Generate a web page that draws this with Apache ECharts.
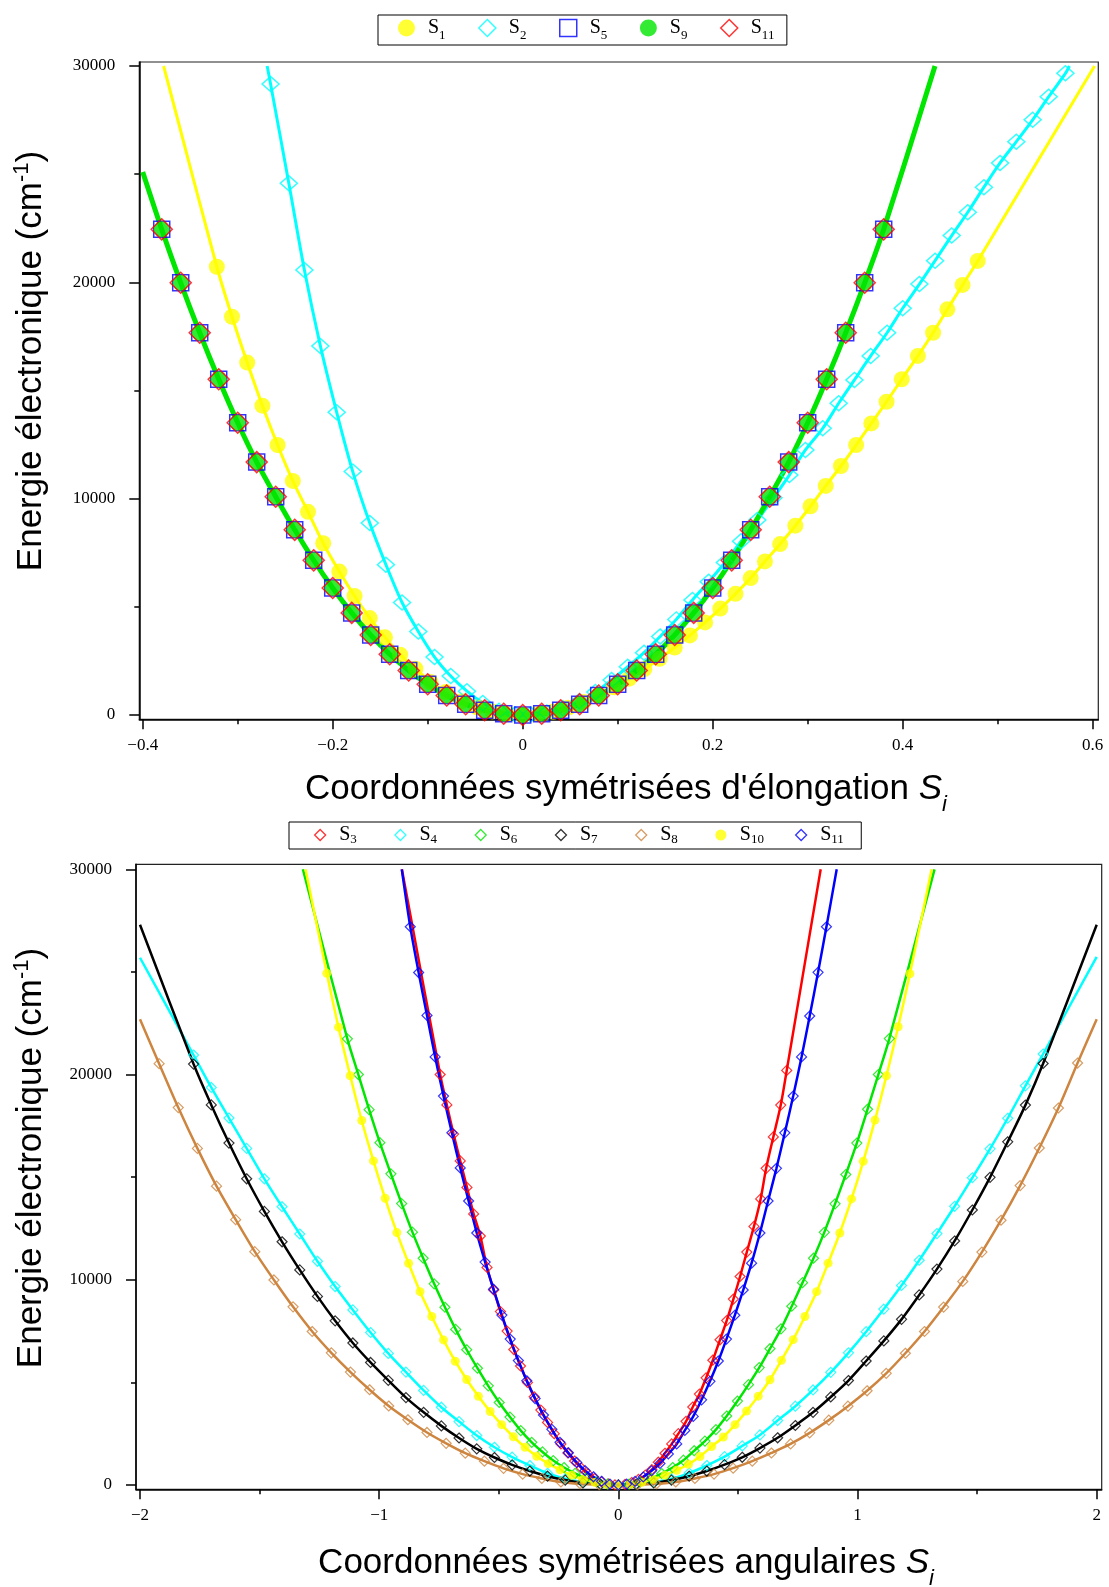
<!DOCTYPE html>
<html><head><meta charset="utf-8">
<script src="https://cdn.jsdelivr.net/npm/echarts@6/dist/echarts.min.js"></script>
<style>html,body{margin:0;padding:0;background:#fff}#c{width:1109px;height:1587px}</style>
</head><body><div id="c"></div>
<script>
// ---------- TOP CHART: stretching coordinates ----------
const topXMajor = [-0.4, -0.2, 0, 0.2, 0.4, 0.6];
const topXMinor = [-0.3, -0.1, 0.1, 0.3, 0.5];
const topYMajor = [0, 10000, 20000, 30000];
const topYMinor = [5000, 15000, 25000];

const s1X = [-0.322,-0.306,-0.290,-0.274,-0.258,-0.242,-0.226,-0.210,-0.193,-0.177,-0.161,-0.145,-0.129,-0.113,-0.097,-0.081,-0.064,-0.048,-0.032,-0.016,0,0.016,0.032,0.048,0.064,0.080,0.096,0.112,0.128,0.144,0.160,0.176,0.192,0.208,0.224,0.240,0.255,0.271,0.287,0.303,0.319,0.335,0.351,0.367,0.383,0.399,0.416,0.432,0.447,0.463,0.479];
const s1E = [20720,18410,16290,14300,12480,10820,9390,7940,6630,5500,4480,3590,2790,2140,1530,1060,640,350,160,40,0,40,150,340,600,920,1280,1680,2120,2600,3120,3680,4280,4920,5600,6330,7100,7900,8750,9650,10590,11510,12480,13480,14480,15520,16600,17670,18750,19880,20990];
const s1LineEnds = [[-0.378, 30000], [0.602, 30000]];

const s2X = [-0.2654,-0.2462,-0.2298,-0.2130,-0.1958,-0.1789,-0.1610,-0.1440,-0.1270,-0.1099,-0.0928,-0.0758,-0.0587,-0.0420,-0.0250,-0.0080,0.0084,0.0254,0.0424,0.0595,0.0765,0.0936,0.1106,0.1277,0.1447,0.1617,0.1787,0.1958,0.2128,0.2299,0.2470,0.2640,0.2807,0.2976,0.3158,0.3326,0.3492,0.3663,0.3836,0.4000,0.4176,0.4341,0.4516,0.4685,0.4855,0.5025,0.5196,0.5368,0.5537,0.5713];
const s2E = [29170,24580,20570,17060,13990,11250,8870,6950,5200,3860,2680,1800,1100,560,200,30,20,120,310,640,1060,1620,2230,2880,3630,4420,5320,6160,7050,8030,9010,10040,11090,12250,13250,14410,15490,16600,17670,18800,19920,21000,22160,23240,24400,25520,26500,27510,28580,29660];
const s2LineEnds = [[-0.269, 30000], [0.5755, 30000]];

const elongX = [-0.38,-0.36,-0.34,-0.32,-0.30,-0.28,-0.26,-0.24,-0.22,-0.20,-0.18,-0.16,-0.14,-0.12,-0.10,-0.08,-0.06,-0.04,-0.02,0,0.02,0.04,0.06,0.08,0.10,0.12,0.14,0.16,0.18,0.20,0.22,0.24,0.26,0.28,0.30,0.32,0.34,0.36,0.38];
const s5E  = [22450,19980,17670,15520,13510,11690,10090,8560,7150,5870,4720,3700,2810,2060,1420,900,500,220,55,0,55,220,500,900,1420,2060,2810,3700,4720,5870,7150,8560,10090,11690,13510,15520,17670,19980,22450];
const s9E  = [22450,19980,17670,15520,13510,11690,10090,8560,7150,5870,4720,3700,2810,2060,1420,900,500,220,55,0,55,220,500,900,1420,2060,2810,3700,4720,5870,7150,8560,10090,11690,13510,15520,17670,19980,22450];
const s11E = [22450,19980,17670,15520,13510,11690,10090,8560,7150,5870,4720,3700,2810,2060,1420,900,500,220,55,0,55,220,500,900,1420,2060,2810,3700,4720,5870,7150,8560,10090,11690,13510,15520,17670,19980,22450];
const s9LineEnds = [[-0.4, 25100], [0.434, 30000]];

// ---------- BOTTOM CHART: angular coordinates ----------
const botXMajor = [-2, -1, 0, 1, 2];
const botXMinor = [-1.5, -0.5, 0.5, 1.5];
const botYMajor = [0, 10000, 20000, 30000];
const botYMinor = [5000, 15000, 25000];

const a3X = [-0.745,-0.717,-0.689,-0.661,-0.633,-0.605,-0.577,-0.549,-0.521,-0.493,-0.465,-0.437,-0.409,-0.380,-0.352,-0.324,-0.296,-0.268,-0.240,-0.211,-0.183,-0.155,-0.127,-0.099,-0.070,-0.042,-0.014,0.028,0.056,0.084,0.113,0.140,0.167,0.195,0.223,0.251,0.283,0.311,0.339,0.367,0.395,0.425,0.453,0.481,0.509,0.537,0.567,0.595,0.618,0.648,0.679,0.704];
const a3E = [20000,18520,17100,15790,14500,13210,12130,10600,9500,8450,7500,6600,5800,5000,4300,3650,3050,2500,2000,1560,1170,830,540,310,150,50,5,30,120,270,480,750,1110,1545,2003,2500,3100,3800,4430,5220,6080,7075,8010,9060,10160,11350,12600,13940,15430,16960,18510,20200];
const a3LineEnds = [[-0.905, 30000], [0.846, 30000]];

const a47X = [-1.776,-1.702,-1.628,-1.554,-1.480,-1.406,-1.332,-1.258,-1.184,-1.110,-1.036,-0.962,-0.888,-0.814,-0.740,-0.666,-0.592,-0.518,-0.444,-0.370,-0.296,-0.222,-0.148,-0.074,0,0.074,0.148,0.222,0.296,0.370,0.444,0.518,0.592,0.666,0.740,0.814,0.888,0.962,1.036,1.110,1.184,1.258,1.332,1.406,1.480,1.554,1.628,1.702,1.776];
const a4E = [20950,19370,17880,16400,14920,13560,12230,10900,9670,8530,7430,6410,5500,4610,3790,3090,2410,1840,1360,950,570,300,130,35,0,35,130,300,580,950,1380,1905,2440,3140,3840,4630,5490,6440,7470,8570,9720,10950,12250,13580,14970,16380,17870,19450,21000];
const a4LineEnds = [[-2, 25690], [2, 25730]];
const a7E = [20510,18520,16660,14920,13330,11850,10480,9190,8000,6920,5970,5100,4260,3540,2880,2290,1760,1340,980,680,430,240,100,25,0,25,100,240,430,680,990,1350,1800,2300,2900,3540,4290,5090,6040,7020,8070,9260,10520,11890,13400,14990,16720,18510,20540];
const a7LineEnds = [[-2, 27300], [2, 27300]];

const a6X = [-1.133,-1.087,-1.042,-0.997,-0.951,-0.906,-0.861,-0.816,-0.770,-0.725,-0.680,-0.634,-0.589,-0.544,-0.498,-0.453,-0.408,-0.362,-0.317,-0.272,-0.227,-0.181,-0.136,-0.091,-0.045,0,0.045,0.091,0.136,0.181,0.227,0.272,0.317,0.362,0.408,0.453,0.498,0.544,0.589,0.634,0.680,0.725,0.770,0.816,0.861,0.906,0.951,0.997,1.042,1.087,1.133];
const a6E = [21740,20000,18290,16680,15160,13710,12320,11050,9800,8660,7580,6590,5690,4830,4020,3310,2650,2080,1610,1190,850,565,330,150,40,0,40,145,320,560,850,1210,1670,2140,2700,3360,4090,4890,5720,6640,7610,8710,9860,11050,12310,13700,15130,16660,18310,20000,21750];
const a6LineEnds = [[-1.319, 30000], [1.322, 30000]];

const a8X = [-1.92,-1.84,-1.76,-1.68,-1.60,-1.52,-1.44,-1.36,-1.28,-1.20,-1.12,-1.04,-0.96,-0.88,-0.80,-0.72,-0.64,-0.56,-0.48,-0.40,-0.32,-0.24,-0.16,-0.08,0,0.08,0.16,0.24,0.32,0.40,0.48,0.56,0.64,0.72,0.80,0.88,0.96,1.04,1.12,1.20,1.28,1.36,1.44,1.52,1.60,1.68,1.76,1.84,1.92];
const a8E = [20530,18390,16400,14560,12930,11370,9990,8680,7480,6440,5500,4640,3850,3180,2560,2030,1550,1160,810,530,320,150,60,15,0,15,60,150,320,530,820,1160,1560,2000,2540,3160,3840,4590,5440,6420,7480,8670,9920,11350,12900,14590,16420,18370,20560];
const a8LineEnds = [[-2, 22690], [2, 22690]];

const a10X = [-1.219,-1.170,-1.121,-1.073,-1.024,-0.975,-0.926,-0.877,-0.829,-0.780,-0.731,-0.682,-0.634,-0.585,-0.536,-0.488,-0.439,-0.390,-0.341,-0.293,-0.244,-0.195,-0.146,-0.098,-0.049,0,0.049,0.098,0.146,0.195,0.244,0.293,0.341,0.390,0.439,0.488,0.536,0.585,0.634,0.682,0.731,0.780,0.829,0.877,0.926,0.975,1.024,1.073,1.121,1.170,1.219];
const a10E = [24930,22310,19940,17760,15790,13970,12300,10800,9420,8210,7070,6030,5140,4320,3580,2940,2350,1840,1400,1040,740,470,280,125,30,0,30,125,280,470,720,1010,1390,1870,2340,2940,3600,4330,5130,6080,7080,8210,9420,10810,12280,13940,15770,17780,19940,22330,24910];
const a10LineEnds = [[-1.308, 30000], [1.31, 30000]];

const a11X = [-0.870,-0.835,-0.800,-0.766,-0.731,-0.696,-0.661,-0.626,-0.592,-0.557,-0.522,-0.487,-0.452,-0.418,-0.383,-0.348,-0.313,-0.278,-0.244,-0.209,-0.174,-0.139,-0.104,-0.070,-0.035,0,0.035,0.070,0.104,0.139,0.174,0.209,0.244,0.278,0.313,0.348,0.383,0.418,0.452,0.487,0.522,0.557,0.592,0.626,0.661,0.696,0.731,0.766,0.800,0.835,0.870];
const a11E = [27200,24970,22880,20860,18950,17160,15450,13840,12280,10860,9540,8280,7110,6060,5080,4210,3410,2710,2080,1570,1100,700,400,180,45,0,45,175,390,690,1050,1510,2000,2660,3340,4150,5050,6040,7110,8270,9500,10810,12280,13840,15430,17160,18950,20860,22850,24980,27200];
const a11LineEnds = [[-0.9055, 30000], [0.913, 30000]];

// ---------- helpers ----------
const pts = (xs, es) => xs.map((x, i) => [x, es[i]]);
const withEnds = (xs, es, ends) => [ends[0], ...pts(xs, es), ends[1]];
const SERIF = 'Liberation Serif', SANS = 'Liberation Sans';
const fmt = v => String(v).replace('-', '\u2212');
const C = {yellow:'#ffff00', cyan:'#00ffff', blue:'#0000ff', green:'#00e600', red:'#ff0000', black:'#000000', brown:'#cd853f'};
const NOFILL = 'rgba(0,0,0,0)';

function lineS(name, xi, yi, data, color, width) {
  return {name, type:'line', xAxisIndex:xi, yAxisIndex:yi, data, showSymbol:false, symbol:'none',
    smooth:0.3, lineStyle:{color, width}, itemStyle:{color}, silent:true, z:2};
}
function scatS(name, xi, yi, data, symbol, size, fill, stroke, bw) {
  return {name, type:'scatter', xAxisIndex:xi, yAxisIndex:yi, data, symbol, symbolSize:size,
    itemStyle:{color:fill, borderColor:stroke, borderWidth:bw}, silent:true, z:3};
}
function xAx(grid, min, max, major, minor) {
  const lab = {fontFamily:SERIF, fontSize:17, color:'#000'};
  return [
    {gridIndex:grid, type:'value', min, max, position:'bottom',
      axisLine:{show:true, onZero:false, lineStyle:{color:'#000', width:1.5}},
      axisTick:{show:true, length:10, customValues:major, lineStyle:{color:'#000', width:1.5}},
      axisLabel:{show:true, customValues:major, formatter:fmt, margin:18, ...lab},
      splitLine:{show:false}},
    {gridIndex:grid, type:'value', min, max, position:'bottom',
      axisLine:{show:false, onZero:false},
      axisTick:{show:true, length:5, customValues:minor, lineStyle:{color:'#000', width:1.5}},
      axisLabel:{show:false}, splitLine:{show:false}}
  ];
}
function yAx(grid, min, max, major, minor) {
  const lab = {fontFamily:SERIF, fontSize:17, color:'#000'};
  return [
    {gridIndex:grid, type:'value', min, max, position:'left',
      axisLine:{show:true, onZero:false, lineStyle:{color:'#000', width:1.5}},
      axisTick:{show:true, length:10, customValues:major, lineStyle:{color:'#000', width:1.5}},
      axisLabel:{show:true, customValues:major, formatter:v => String(v), margin:24, ...lab},
      splitLine:{show:false}},
    {gridIndex:grid, type:'value', min, max, position:'left',
      axisLine:{show:false, onZero:false},
      axisTick:{show:true, length:5, customValues:minor, lineStyle:{color:'#000', width:1.5}},
      axisLabel:{show:false}, splitLine:{show:false}}
  ];
}
const legendFmt = n => '{s|S}{b|' + n.replace(/\D/g, '') + '}';
const legendText = (lh, padL) => ({rich:{
  s:{fontFamily:SERIF, fontSize:20, lineHeight:lh, color:'#000', padding:[0,0,0,padL]},
  b:{fontFamily:SERIF, fontSize:13, lineHeight:13, verticalAlign:'bottom', color:'#000', width:16}}});

const titleRichY = {a:{fontFamily:SANS, fontSize:35, lineHeight:40, fill:'#000'}, p:{fontFamily:SANS, fontSize:22, lineHeight:22, verticalAlign:'top', fill:'#000'}};
const titleRichX = {a:{fontFamily:SANS, fontSize:35, lineHeight:54, fill:'#000'}, s:{fontFamily:SANS, fontStyle:'italic', fontSize:35, lineHeight:54, fill:'#000'}, i:{fontFamily:SANS, fontStyle:'italic', fontSize:22, lineHeight:22, verticalAlign:'bottom', fill:'#000'}};

const option = {
  animation:false,
  backgroundColor:'#fff',
  grid:[
    {left:139.3, top:62, width:959, height:657.3, show:true, borderColor:'#222', borderWidth:1.2, backgroundColor:'transparent'},
    {left:136, top:864.3, width:965.7, height:625, show:true, borderColor:'#222', borderWidth:1.2, backgroundColor:'transparent'}
  ],
  xAxis:[...xAx(0, -0.4036, 0.6059, topXMajor, topXMinor), ...xAx(1, -2.0167, 2.0209, botXMajor, botXMinor)],
  yAxis:[...yAx(0, -199, 30185, topYMajor, topYMinor), ...yAx(1, -210, 30244, botYMajor, botYMinor)],
  legend:[
    {left:378, top:15, orient:'horizontal', padding:[3,9,3,20], itemWidth:17, itemHeight:17, itemGap:23,
      borderColor:'#000', borderWidth:1, selectedMode:false, formatter:legendFmt, textStyle:legendText(28, 8),
      data:[
        {name:'S1', icon:'circle', itemStyle:{color:C.yellow, borderWidth:0}},
        {name:'S2', icon:'diamond', itemStyle:{color:NOFILL, borderColor:C.cyan, borderWidth:1.5}},
        {name:'S5', icon:'rect', itemStyle:{color:NOFILL, borderColor:C.blue, borderWidth:1.5}},
        {name:'S9', icon:'circle', itemStyle:{color:C.green, borderWidth:0}},
        {name:'S11', icon:'diamond', itemStyle:{color:NOFILL, borderColor:C.red, borderWidth:1.5}}
      ]},
    {left:289, top:822, orient:'horizontal', padding:[3,14,3,25], itemWidth:11, itemHeight:11, itemGap:28,
      borderColor:'#000', borderWidth:1, selectedMode:false, formatter:legendFmt, textStyle:legendText(22, 8.5),
      data:[
        {name:'A3', icon:'diamond', itemStyle:{color:NOFILL, borderColor:C.red, borderWidth:1.3}},
        {name:'A4', icon:'diamond', itemStyle:{color:NOFILL, borderColor:C.cyan, borderWidth:1.3}},
        {name:'A6', icon:'diamond', itemStyle:{color:NOFILL, borderColor:C.green, borderWidth:1.3}},
        {name:'A7', icon:'diamond', itemStyle:{color:NOFILL, borderColor:C.black, borderWidth:1.3}},
        {name:'A8', icon:'diamond', itemStyle:{color:NOFILL, borderColor:C.brown, borderWidth:1.3}},
        {name:'A10', icon:'circle', itemStyle:{color:C.yellow, borderWidth:0}},
        {name:'A11', icon:'diamond', itemStyle:{color:NOFILL, borderColor:C.blue, borderWidth:1.3}}
      ]}
  ],
  series:[
    // top lines
    lineS('S1 line', 0, 0, withEnds(s1X, s1E, s1LineEnds), C.yellow, 3),
    lineS('S2 line', 0, 0, withEnds(s2X, s2E, s2LineEnds), C.cyan, 3),
    lineS('S9 line', 0, 0, withEnds(elongX, s9E, s9LineEnds), C.green, 5),
    // top markers
    scatS('S1', 0, 0, pts(s1X, s1E), 'circle', 16, C.yellow, C.yellow, 0),
    scatS('S2', 0, 0, pts(s2X, s2E), 'diamond', [17,15], NOFILL, C.cyan, 1.5),
    scatS('S5', 0, 0, pts(elongX, s5E), 'rect', 16, NOFILL, C.blue, 1.5),
    scatS('S9', 0, 0, pts(elongX, s9E), 'circle', 16, C.green, C.green, 0),
    scatS('S11', 0, 0, pts(elongX, s11E), 'diamond', [21,21], NOFILL, C.red, 1.5),
    // bottom lines
    lineS('A3 line', 2, 2, withEnds(a3X, a3E, a3LineEnds), C.red, 2.5),
    lineS('A4 line', 2, 2, withEnds(a47X, a4E, a4LineEnds), C.cyan, 2.5),
    lineS('A6 line', 2, 2, withEnds(a6X, a6E, a6LineEnds), C.green, 2.5),
    lineS('A7 line', 2, 2, withEnds(a47X, a7E, a7LineEnds), C.black, 2.5),
    lineS('A8 line', 2, 2, withEnds(a8X, a8E, a8LineEnds), C.brown, 2.5),
    lineS('A10 line', 2, 2, withEnds(a10X, a10E, a10LineEnds), C.yellow, 2.5),
    lineS('A11 line', 2, 2, withEnds(a11X, a11E, a11LineEnds), C.blue, 2.5),
    // bottom markers
    scatS('A3', 2, 2, pts(a3X, a3E), 'diamond', [10,10], NOFILL, C.red, 1.2),
    scatS('A4', 2, 2, pts(a47X, a4E), 'diamond', [10,10], NOFILL, C.cyan, 1.2),
    scatS('A6', 2, 2, pts(a6X, a6E), 'diamond', [10,10], NOFILL, C.green, 1.2),
    scatS('A7', 2, 2, pts(a47X, a7E), 'diamond', [10,10], NOFILL, C.black, 1.2),
    scatS('A8', 2, 2, pts(a8X, a8E), 'diamond', [10,10], NOFILL, C.brown, 1.2),
    scatS('A10', 2, 2, pts(a10X, a10E), 'circle', 9, C.yellow, C.yellow, 0),
    scatS('A11', 2, 2, pts(a11X, a11E), 'diamond', [10,10], NOFILL, C.blue, 1.2)
  ],
  graphic:[
    {type:'text', x:31, y:361, rotation:Math.PI/2, silent:true, style:{
      text:'{a|Energie électronique (cm}{p|-1}{a|)}', align:'center', verticalAlign:'middle', rich:titleRichY}},
    {type:'text', x:31, y:1158, rotation:Math.PI/2, silent:true, style:{
      text:'{a|Energie électronique (cm}{p|-1}{a|)}', align:'center', verticalAlign:'middle', rich:titleRichY}},
    {type:'text', x:626, y:789, silent:true, style:{
      text:"{a|Coordonnées symétrisées d'élongation }{s|S}{i|i}", align:'center', verticalAlign:'middle', rich:titleRichX}},
    {type:'text', x:626, y:1563, silent:true, style:{
      text:'{a|Coordonnées symétrisées angulaires }{s|S}{i|i}', align:'center', verticalAlign:'middle', rich:titleRichX}}
  ]
};
const chart = echarts.init(document.getElementById('c'), null, {renderer:'canvas'});
chart.setOption(option);
</script></body></html>
